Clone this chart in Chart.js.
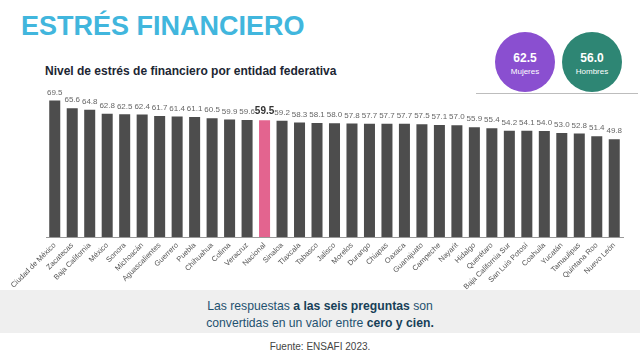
<!DOCTYPE html>
<html>
<head>
<meta charset="utf-8">
<script src="https://cdn.jsdelivr.net/npm/chart.js@4"></script>
<style>
  body { margin: 0; width: 640px; height: 359px; background: #fff; font-family: "Liberation Sans", Arial, sans-serif; position: relative; overflow: hidden; }
  #title { position: absolute; left: 21px; top: 11px; font-size: 27px; font-weight: bold; color: #41b6dd; }
  #subtitle { position: absolute; left: 45px; top: 64px; font-size: 12px; font-weight: bold; color: #1c2633; }
  .circle { position: absolute; width: 60px; height: 60px; border-radius: 50%; color: #fff; text-align: center; }
  .circle b { display: block; font-size: 12px; margin-top: 19px; }
  .circle span { display: block; font-size: 8px; margin-top: 2px; }
  #mujeres { left: 495px; top: 32px; background: #8a4fd0; }
  #hombres { left: 562px; top: 32px; background: #2e8674; }
  #rule { position: absolute; left: 476px; top: 93px; width: 162px; height: 1px; background: #bdbdbd; }
  #chartbox { position: absolute; left: 0; top: 70px; width: 640px; height: 220px; }
  #note { position: absolute; left: 0; top: 290px; width: 640px; height: 43px; background: #efefef; text-align: center; color: #1f5270; font-size: 12.2px; line-height: 17px; padding-top: 8px; box-sizing: border-box; }
  #note b { color: #173f58; }
  #source { position: absolute; left: 0; top: 341px; width: 640px; text-align: center; font-size: 10px; color: #444; }
</style>
</head>
<body>
<div id="title">ESTRÉS FINANCIERO</div>
<div id="subtitle">Nivel de estrés de financiero por entidad federativa</div>
<div class="circle" id="mujeres"><b>62.5</b><span>Mujeres</span></div>
<div class="circle" id="hombres"><b>56.0</b><span>Hombres</span></div>
<div id="rule"></div>
<div id="chartbox"><canvas id="chart"></canvas></div>
<div id="note">Las respuestas <b>a las seis preguntas</b> son<br>convertidas en un valor entre <b>cero y cien.</b></div>
<div id="source">Fuente: ENSAFI 2023.</div>
<script>
  // Categories and values
  const estados = [
    "Ciudad de México", "Zacatecas", "Baja California", "México", "Sonora", "Michoacán",
    "Aguascalientes", "Guerrero", "Puebla", "Chihuahua", "Colima", "Veracruz", "Nacional",
    "Sinaloa", "Tlaxcala", "Tabasco", "Jalisco", "Morelos", "Durango", "Chiapas", "Oaxaca",
    "Guanajuato", "Campeche", "Nayarit", "Hidalgo", "Querétaro", "Baja California Sur",
    "San Luis Potosí", "Coahuila", "Yucatán", "Tamaulipas", "Quintana Roo", "Nuevo León"
  ];
  const estres = [
    69.5, 65.6, 64.8, 62.8, 62.5, 62.4, 61.7, 61.4, 61.1, 60.5, 59.9, 59.6, 59.5,
    59.2, 58.3, 58.1, 58.0, 57.8, 57.7, 57.7, 57.7, 57.5, 57.1, 57.0, 55.9, 55.4,
    54.2, 54.1, 54.0, 53.0, 52.8, 51.4, 49.8
  ];
  const destacado = "Nacional";

  const colores = estados.map(e => e === destacado ? "#e3648f" : "#4d4d4d");

  // Value labels above each bar
  const valueLabels = {
    id: "valueLabels",
    afterDatasetsDraw(chart) {
      const ctx = chart.ctx;
      const meta = chart.getDatasetMeta(0);
      ctx.save();
      ctx.textAlign = "center";
      ctx.textBaseline = "bottom";
      meta.data.forEach((bar, i) => {
        if (estados[i] === destacado) {
          ctx.font = "bold 10px 'Liberation Sans', Arial, sans-serif";
          ctx.fillStyle = "#333";
        } else {
          ctx.font = "8px 'Liberation Sans', Arial, sans-serif";
          ctx.fillStyle = "#666";
        }
        ctx.fillText(estres[i].toFixed(1), bar.x, bar.y - 4);
      });
      ctx.restore();
    }
  };

  const ctx = document.getElementById("chart").getContext("2d");
  const chart = new Chart(ctx, {
    type: "bar",
    data: {
      labels: estados,
      datasets: [{
        data: estres,
        backgroundColor: colores,
        barPercentage: 0.63,
        categoryPercentage: 1.0
      }]
    },
    options: {
      responsive: true,
      maintainAspectRatio: false,
      animation: false,
      layout: { padding: { left: 46, right: 17, top: 10, bottom: 0 } },
      plugins: { legend: { display: false }, tooltip: { enabled: false } },
      scales: {
        x: {
          grid: { display: false, drawTicks: false },
          border: { display: true, color: "#999", width: 1 },
          ticks: {
            autoSkip: false,
            minRotation: 45,
            maxRotation: 45,
            padding: 4,
            color: "#555",
            font: { size: 7.5, family: "'Liberation Sans', Arial, sans-serif" }
          },
          afterFit(scale) { scale.height = 53; }
        },
        y: {
          display: false,
          min: 0,
          max: 80
        }
      }
    },
    plugins: [valueLabels]
  });
</script>
</body>
</html>
